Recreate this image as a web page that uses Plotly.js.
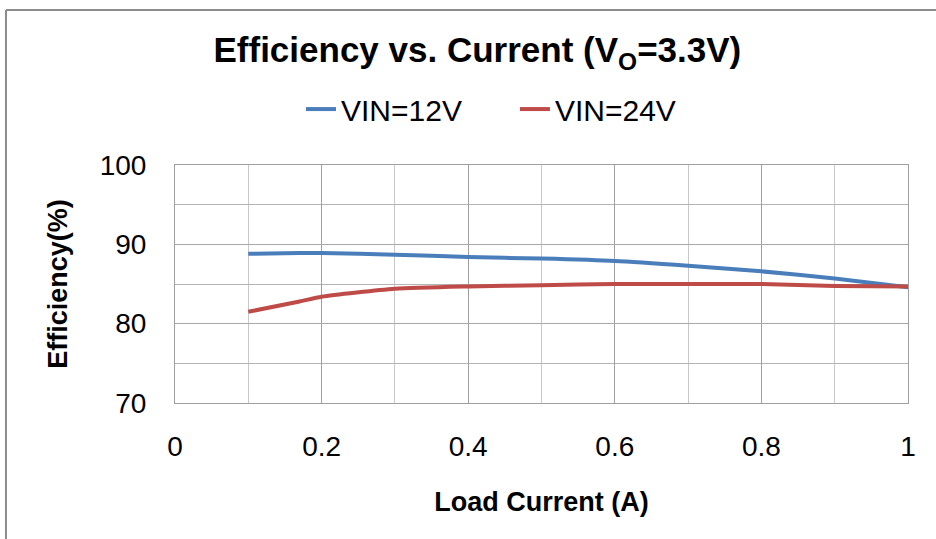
<!DOCTYPE html>
<html>
<head>
<meta charset="utf-8">
<script src="https://cdn.plot.ly/plotly-3.0.1.min.js"></script>
<style>html,body{margin:0;padding:0;background:#fff;}#chart{width:936px;height:539px;}</style>
</head>
<body>
<div id="chart"></div>
<script>
const loadCurrent = [0.1, 0.17, 0.2, 0.3, 0.4, 0.5, 0.6, 0.7, 0.8, 0.9, 1.0];
const eff12V = [88.8, 88.9, 88.9, 88.7, 88.4, 88.2, 87.9, 87.3, 86.6, 85.7, 84.6];
const eff24V = [81.5, 82.8, 83.4, 84.4, 84.7, 84.85, 85.0, 85.0, 85.0, 84.75, 84.7];
const seriesNames = ["VIN=12V", "VIN=24V"];
const xTicks = [0, 0.2, 0.4, 0.6, 0.8, 1];
const xTickText = ["0", "0.2", "0.4", "0.6", "0.8", "1"];
const yTicks = [70, 80, 90, 100];
const yTickText = ["70", "80", "90", "100"];

const font = "Liberation Sans, Arial, sans-serif";
const traces = [
  {x: loadCurrent, y: eff12V, name: seriesNames[0], type: "scatter", mode: "lines", legend: "legend",
   line: {color: "#4A7EBB", width: 4, shape: "spline", smoothing: 0.6}},
  {x: loadCurrent, y: eff24V, name: seriesNames[1], type: "scatter", mode: "lines", legend: "legend2",
   line: {color: "#BE4B48", width: 4, shape: "spline", smoothing: 0.6}}
];
const legendFont = {family: font, size: 30, color: "#000"};
const layout = {
  width: 936, height: 539,
  margin: {l: 175, r: 28, t: 165, b: 136},
  paper_bgcolor: "#ffffff", plot_bgcolor: "#ffffff",
  font: {family: font, color: "#000"},
  showlegend: true,
  title: {text: "<b>Efficiency vs. Current (V<sub>O</sub>=3.3V)</b>", font: {family: font, size: 35, color: "#000"},
          x: 0.51, xanchor: "center", xref: "container", y: 0.907, yanchor: "middle", yref: "container"},
  legend: {orientation: "h", x: 0.1719, xanchor: "left", y: 1.235, yanchor: "middle",
           font: legendFont, bgcolor: "rgba(0,0,0,0)"},
  legend2: {orientation: "h", x: 0.4638, xanchor: "left", y: 1.235, yanchor: "middle",
           font: legendFont, bgcolor: "rgba(0,0,0,0)"},
  xaxis: {range: [0, 1], tickvals: xTicks, ticktext: xTickText, tickfont: {size: 28, family: font},
          showgrid: true, gridcolor: "#a0a0a0", gridwidth: 1,
          minor: {dtick: 0.1, showgrid: true, gridcolor: "#c8c8c8", gridwidth: 1, ticks: ""},
          showline: true, linecolor: "#a0a0a0", linewidth: 1, mirror: true,
          zeroline: false, ticks: "", ticklabelstandoff: 18, fixedrange: true,
          title: {text: "<b>Load Current (A)</b>", font: {family: font, size: 27, color: "#000"}, standoff: 31}},
  yaxis: {range: [70, 100], tickvals: yTicks, ticktext: yTickText, tickfont: {size: 28, family: font},
          showgrid: true, gridcolor: "#a8a8a8", gridwidth: 1,
          minor: {dtick: 5, showgrid: true, gridcolor: "#b4b4b4", gridwidth: 1, ticks: ""},
          showline: true, linecolor: "#a0a0a0", linewidth: 1, mirror: true,
          zeroline: false, ticks: "", ticklabelstandoff: 22, fixedrange: true,
          title: {text: "<b>Efficiency(%)</b>", font: {family: font, size: 27, color: "#000"}, standoff: 24}},
  shapes: [
    {type: "line", xref: "paper", yref: "paper", x0: -0.2306, x1: -0.2306, y0: 1.651, y1: -0.58,
     line: {color: "#8c8c8c", width: 2}},
    {type: "line", xref: "paper", yref: "paper", x0: -0.2306, x1: 1.05, y0: 1.651, y1: 1.651,
     line: {color: "#8c8c8c", width: 2}}
  ]
};
Plotly.newPlot("chart", traces, layout, {displayModeBar: false, staticPlot: true});
</script>
</body>
</html>
